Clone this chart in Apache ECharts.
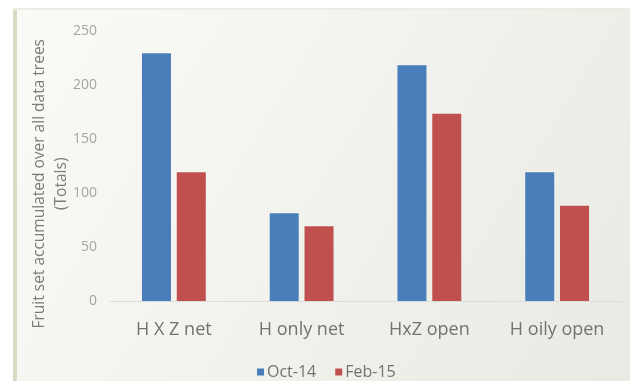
<!DOCTYPE html>
<html><head><meta charset="utf-8">
<script src="https://cdn.jsdelivr.net/npm/echarts@6/dist/echarts.min.js"></script>
<style>html,body{margin:0;padding:0;background:#fff;}#c{width:630px;height:381px;}</style>
</head><body><div id="c"></div>
<script>
const categories = ['H X Z net', 'H only net', 'HxZ open', 'H oily open'];
const oct14 = [229, 81, 218, 119];
const feb15 = [119, 69, 173, 88];
const seriesNames = ['Oct-14', 'Feb-15'];

const chart = echarts.init(document.getElementById('c'));
chart.setOption({
  animation: false,
  graphic: [
    { type: 'rect', z: -10, shape: { x: 13, y: 8, width: 617, height: 373 },
      style: { fill: new echarts.graphic.LinearGradient(0, 0, 1, 1, [
        { offset: 0, color: '#fafaf7' }, { offset: 1, color: '#eaeae4' }]) } },
    { type: 'rect', z: -9, shape: { x: 13, y: 8, width: 4, height: 373 },
      style: { fill: '#d9d9c4' } },
    { type: 'rect', z: -9, shape: { x: 13, y: 8, width: 617, height: 2 },
      style: { fill: '#ecece2' } }
  ],
  grid: { left: 110, right: 9, top: 29, bottom: 80 },
  legend: {
    data: seriesNames, left: 252, top: 359, itemWidth: 7, itemHeight: 7, itemGap: 19,
    icon: 'rect', textStyle: { color: '#727272', fontSize: 16, fontFamily: 'Open Sans', padding: [0, 0, 0, -2] }
  },
  xAxis: {
    type: 'category', data: categories,
    axisLine: { lineStyle: { color: '#dcdcdc' } },
    axisTick: { show: false },
    axisLabel: { color: '#727272', fontSize: 18, margin: 20, fontFamily: 'Open Sans' }
  },
  yAxis: {
    type: 'value', min: 0, max: 250, interval: 50,
    splitLine: { show: false },
    axisLine: { show: false }, axisTick: { show: false },
    axisLabel: { color: '#a4a4a4', fontSize: 14, margin: 13, fontFamily: 'Open Sans' },
    name: 'Fruit set accumulated over all data trees\n(Totals)',
    nameLocation: 'middle', nameRotate: 90, nameGap: 37, nameMoveOverlap: false,
    nameTextStyle: { color: '#7c7c7c', fontSize: 15.5, lineHeight: 22, fontFamily: 'Open Sans', padding: [0, 36, 0, 0] }
  },
  series: [
    { name: seriesNames[0], type: 'bar', data: oct14, barWidth: 29, barGap: '20%',
      itemStyle: { color: '#4a7ebb' } },
    { name: seriesNames[1], type: 'bar', data: feb15, barWidth: 29,
      itemStyle: { color: '#c0504d' } }
  ]
});
</script></body></html>
